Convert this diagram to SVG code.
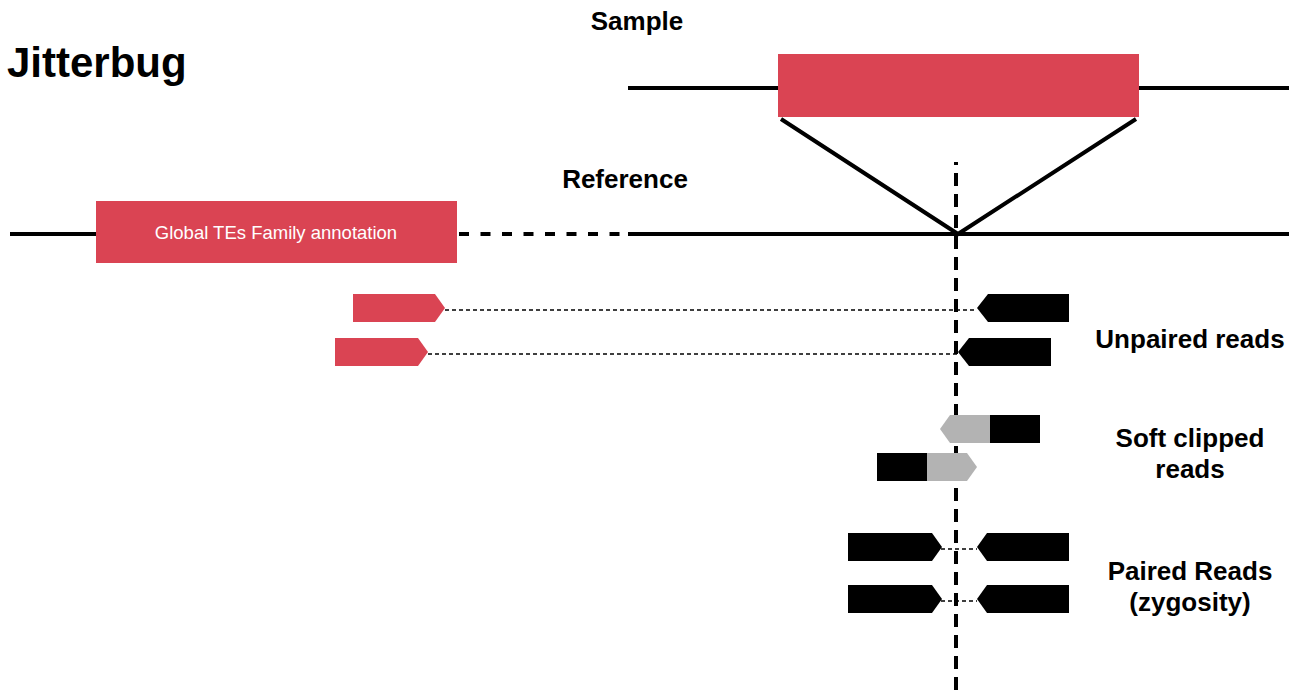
<svg xmlns="http://www.w3.org/2000/svg" width="1298" height="695" viewBox="0 0 1298 695">
<style>
.lbl{font-family:"Liberation Sans",Arial,sans-serif;font-weight:bold;fill:#000}
.red{fill:#DA4453}
.blk{fill:#000}
.gry{fill:#B3B3B3}
.solid{stroke:#000;stroke-width:4;fill:none}
.dot{stroke:#000;stroke-width:1.5;stroke-dasharray:4 3;fill:none}
</style>
<rect width="1298" height="695" fill="#fff"/>
<text class="lbl" x="7" y="77" font-size="42">Jitterbug</text>
<text class="lbl" x="637" y="30" font-size="26" text-anchor="middle">Sample</text>
<text class="lbl" x="625" y="188" font-size="26" text-anchor="middle">Reference</text>
<g id="connectors">
<line class="solid" x1="628" y1="88" x2="1289" y2="88"/>
<line class="solid" x1="10" y1="234" x2="100" y2="234"/>
<line class="solid" x1="459" y1="234" x2="628" y2="234" stroke-dasharray="10 11.5"/>
<line class="solid" x1="628" y1="234" x2="1289" y2="234"/>
<polyline class="solid" points="781,119 958,234 1136,119"/>
<line class="solid" x1="956" y1="162" x2="956" y2="695" stroke-dasharray="13 8" stroke-dashoffset="10"/>
<line class="dot" x1="445" y1="310" x2="977" y2="310"/>
<line class="dot" x1="428" y1="354" x2="958" y2="354"/>
<line class="dot" x1="941" y1="549" x2="977" y2="549"/>
<line class="dot" x1="941" y1="601" x2="977" y2="601"/>
</g>
<g id="sample-insert"><rect class="red" x="778" y="54" width="361" height="63"/></g>
<g id="te-annotation">
<rect class="red" x="96" y="201" width="361" height="62"/>
<text x="276" y="239" font-family="Liberation Sans,Arial,sans-serif" font-size="18.5" fill="#fff" text-anchor="middle">Global TEs Family annotation</text>
</g>
<g id="unpaired-reads">
<polygon class="red" points="353,294 435,294 445,308 435,322 353,322"/>
<polygon class="red" points="335,338 418,338 428,352 418,366 335,366"/>
<polygon class="blk" points="988,294 1069,294 1069,322 988,322 977,308"/>
<polygon class="blk" points="969,338 1051,338 1051,366 969,366 958,352"/>
<text class="lbl" x="1190" y="348" font-size="26" text-anchor="middle">Unpaired reads</text>
</g>
<g id="soft-clipped-reads">
<polygon class="gry" points="950,415 990,415 990,443 950,443 940,429"/>
<rect class="blk" x="990" y="415" width="50" height="28"/>
<rect class="blk" x="877" y="453" width="50" height="28"/>
<polygon class="gry" points="927,453 967,453 977,467 967,481 927,481"/>
<text class="lbl" x="1190" y="447" font-size="26" text-anchor="middle">Soft clipped</text>
<text class="lbl" x="1190" y="478" font-size="26" text-anchor="middle">reads</text>
</g>
<g id="paired-reads">
<polygon class="blk" points="848,533 932,533 942,547 932,561 848,561"/>
<polygon class="blk" points="987,533 1069,533 1069,561 987,561 977,547"/>
<polygon class="blk" points="848,585 932,585 942,599 932,613 848,613"/>
<polygon class="blk" points="987,585 1069,585 1069,613 987,613 977,599"/>
<text class="lbl" x="1190" y="580" font-size="26" text-anchor="middle">Paired Reads</text>
<text class="lbl" x="1190" y="611" font-size="26" text-anchor="middle">(zygosity)</text>
</g>
</svg>
